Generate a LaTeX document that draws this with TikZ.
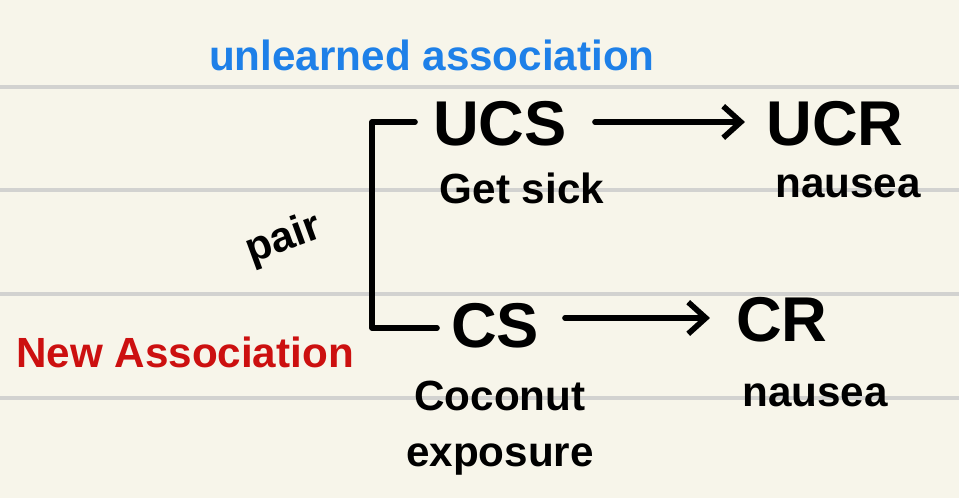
\documentclass[tikz,border=0pt]{standalone}
\usepackage{fontspec}
\setmainfont{Liberation Sans}
\usetikzlibrary{arrows.meta}
\definecolor{paper}{HTML}{F7F5EA}
\definecolor{rule}{HTML}{D2D2D0}
\definecolor{hblue}{HTML}{1E80E8}
\definecolor{hred}{HTML}{CC1010}
\tikzset{
 big/.style={font=\bfseries\fontsize{18}{20}\selectfont},
 small/.style={font=\bfseries\fontsize{12}{14}\selectfont, align=left},
 pen/.style={line width=1.6pt, line cap=round, line join=round},
 arr/.style={pen, -{Straight Barb[length=5pt,width=9pt]}}
}
\begin{document}
\begin{tikzpicture}[x=0.01cm,y=-0.01cm]
\fill[paper] (0,0) rectangle (959,498);
\useasboundingbox (0,0) rectangle (959,498);
\foreach \yy in {87,190,294,398} \draw[rule, line width=1.2pt] (0,\yy) -- (959,\yy);
\node[small, text=hblue] (ua) at (432,55) {unlearned association};
\node[big] (ucs) at (500,124) {UCS};
\node[big] (ucr) at (835,124) {UCR};
\node[small] (gs) at (522,188) {Get sick};
\node[small] (n1) at (848,186) {nausea};
\node[small, rotate=20, inner sep=0pt] (pair) at (284,240) {pair};
\node[big] (cs) at (495,326) {CS};
\node[big] (cr) at (782,320) {CR};
\node[small, text=hred] (na) at (185,352) {New Association};
\node[small, align=center] (coc) at (500,428) {Coconut\\[2pt]exposure};
\node[small] (n2) at (815,395) {nausea};
\coordinate (b0) at (415,122);
\coordinate (b1) at (372,122);
\coordinate (b2) at (372,328);
\coordinate (b3) at (437,328);
\coordinate (a1) at (595,122);
\coordinate (a2) at (745,122);
\coordinate (c1) at (565,318);
\coordinate (c2) at (710,318);
\draw[pen] (b0) -- (b1) -- (b2) -- (b3);
\draw[arr] (a1) -- (a2);
\draw[arr] (c1) -- (c2);
\end{tikzpicture}
\end{document}
